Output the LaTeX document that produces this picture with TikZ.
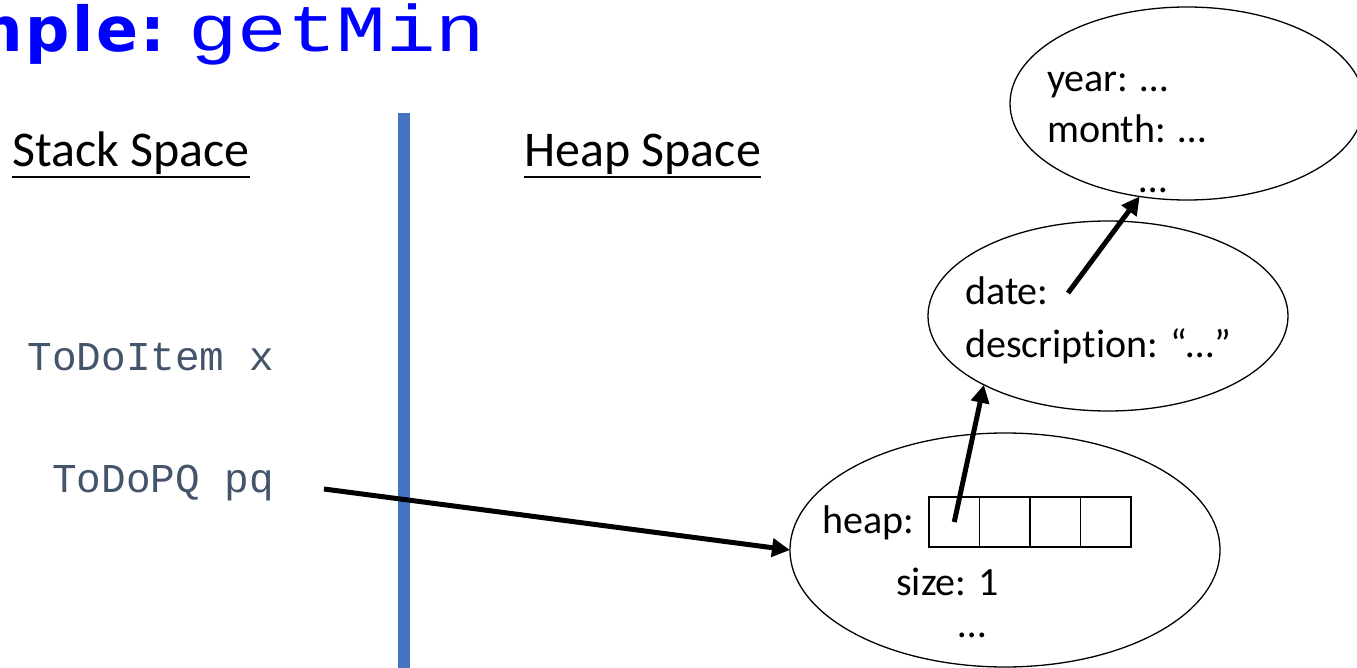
\documentclass[tikz,border=0pt]{standalone}
\usepackage{fontspec}
\setmainfont{Carlito}[Ligatures=NoCommon]
\setmonofont{Liberation Mono}
\newfontfamily\titlesans{DejaVu Sans}[LetterSpace=4]
\usetikzlibrary{shapes.geometric,arrows.meta,positioning}
\definecolor{titleblue}{HTML}{0000FF}
\definecolor{divider}{HTML}{4472C4}
\definecolor{vartext}{HTML}{44546A}

\begin{document}
\begin{tikzpicture}[x=1pt,y=-1pt,
  obj/.style={ellipse, draw, line width=1.3pt, inner sep=0pt, outer sep=0pt},
  field/.style={inner sep=0pt, anchor=base west, font=\fontsize{40}{48}\selectfont},
  ptr/.style={line width=5pt, -{Triangle[length=18pt,width=18pt]}},
  cell/.style={draw, line width=1.3pt, minimum width=50.5pt, minimum height=50pt, inner sep=0pt, outer sep=0pt},
  stackvar/.style={text=vartext, inner sep=0pt, anchor=base east, font=\ttfamily\fontsize{41}{48}\selectfont},
  heading/.style={inner sep=0pt, anchor=base west, font=\fontsize{50}{60}\selectfont},
  underbar/.style={line width=2.5pt}]

\clip (0,0) rectangle (1357,668);
\useasboundingbox (0,0) rectangle (1357,668);

% title
\node[inner sep=0pt, anchor=base east, text=titleblue, font=\titlesans\bfseries\fontsize{62}{70}\selectfont] (titleword) at (166,52) {Example:};
\node[inner sep=0pt, anchor=base west, text=titleblue, xscale=1.25, font=\ttfamily\fontsize{66}{70}\selectfont] (titlecode) at (188,52) {getMin};

% divider between stack and heap
\fill[divider] (398,113) rectangle (410,668);

% headings
\node[heading] (stackhead) at (12,167) {Stack Space};
\draw[underbar] ([yshift=-10pt]stackhead.base west) -- ([yshift=-10pt]stackhead.base east);
\node[heading] (heaphead) at (524,167) {Heap Space};
\draw[underbar] ([yshift=-10pt]heaphead.base west) -- ([yshift=-10pt]heaphead.base east);

% stack variables
\node[stackvar] (varx) at (274,370) {ToDoItem x};
\node[stackvar] (varpq) at (274,492) {ToDoPQ pq};
\coordinate (pqref) at (324,489);

% heap objects
\node[obj, minimum width=430pt, minimum height=234pt] (pqobj) at (1005,550) {};
\node[obj, minimum width=360pt, minimum height=190pt] (item) at (1108,316) {};
\node[obj, minimum width=354pt, minimum height=193pt] (date) at (1187,103.5) {};

% priority queue fields
\node[field] (heaplbl) at (822,533) {heap:};
\node[cell] (cell1) at (954.25,522) {};
\node[cell, right=0pt of cell1] (cell2) {};
\node[cell, right=0pt of cell2] (cell3) {};
\node[cell, right=0pt of cell3] (cell4) {};
\node[field] (sizelbl) at (896,595) {size: 1};
\node[field] (pqmore) at (958,637) {…};

% to-do item fields
\node[field] (datelbl) at (965,305) {date:};
\node[field] (desclbl) at (965,357) {description: “…”};
\coordinate (datefield) at (1068,293);

% date fields
\node[field] (yearlbl) at (1047,92) {year: …};
\node[field] (monthlbl) at (1047,143) {month: …};
\node[field] (datemore) at (1139,193) {…};

% references
\draw[ptr] (pqref) -- (pqobj.west);
\draw[ptr] (cell1.center) -- (item.209);
\draw[ptr] (datefield) -- (date.243);
\end{tikzpicture}
\end{document}
